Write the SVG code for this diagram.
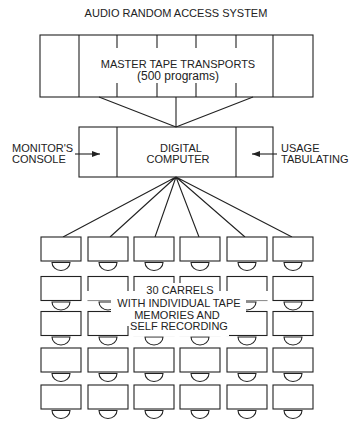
<svg xmlns="http://www.w3.org/2000/svg" width="349" height="421" viewBox="0 0 349 421">
<defs>
<style>
.ln{stroke:#222;stroke-width:1.1;fill:none}
.bx{stroke:#222;stroke-width:1.1;fill:#fff}
.t{font-family:"Liberation Sans",Arial,Helvetica,sans-serif;font-size:11px;fill:#222;text-anchor:middle}
.tl{font-family:"Liberation Sans",Arial,Helvetica,sans-serif;font-size:11px;fill:#222}
</style>
<marker id="ah" viewBox="0 0 8 6" refX="8" refY="3" markerWidth="8" markerHeight="6" markerUnits="userSpaceOnUse" orient="auto">
<path d="M0,0 L8,3 L0,6 Z" fill="#222"/>
</marker>
<g id="carrel">
<rect class="bx" x="0" y="0" width="40" height="24"/>
<path class="ln" d="M11,25.5 L29,25.5 A9 8 0 0 1 11,25.5 Z"/>
</g>
</defs>
<rect width="349" height="421" fill="#fff"/>
<text class="t" x="176" y="17">AUDIO RANDOM ACCESS SYSTEM</text>

<g id="master">
<rect class="bx" x="40" y="35" width="273" height="62"/>
<path class="ln" d="M79,35V97M273,35V97M117,35V48M157,35V48M196,35V48M236,35V48M117,83V97M157,83V97M196,83V97M236,83V97"/>
<text class="t" x="178" y="68">MASTER TAPE TRANSPORTS</text>
<text class="t" x="178" y="80" style="font-size:12px">(500 programs)</text>
</g>

<g id="computer">
<rect class="bx" x="79" y="127" width="194" height="50"/>
<path class="ln" d="M117,127V177M236,127V177"/>
<text class="t" x="181" y="152">DIGITAL</text>
<text class="t" x="178" y="163">COMPUTER</text>
</g>

<g id="monitor">
<text class="tl" x="12" y="152">MONITOR'S</text>
<text class="tl" x="12" y="163">CONSOLE</text>
</g>
<g id="usage">
<text class="tl" x="281" y="152">USAGE</text>
<text class="tl" x="281" y="163">TABULATING</text>
</g>

<g id="connectors">
<path class="ln" d="M99,97L176,127M176,97V127M253,97L176,127"/>
<line class="ln" x1="75" y1="154" x2="100" y2="154" marker-end="url(#ah)"/>
<line class="ln" x1="277" y1="154" x2="252" y2="154" marker-end="url(#ah)"/>
<path class="ln" d="M176,177L63,237M176,177L110,237M176,177L155,237M176,177L199,237M176,177L245,237M176,177L292,237"/>
</g>

<g id="carrels">
<g id="c1-1"><use href="#carrel" x="41" y="237"/></g>
<g id="c1-2"><use href="#carrel" x="88" y="237"/></g>
<g id="c1-3"><use href="#carrel" x="134" y="237"/></g>
<g id="c1-4"><use href="#carrel" x="180" y="237"/></g>
<g id="c1-5"><use href="#carrel" x="227" y="237"/></g>
<g id="c1-6"><use href="#carrel" x="273" y="237"/></g>
<g id="c2-1"><use href="#carrel" x="41" y="276.5"/></g>
<g id="c2-2"><use href="#carrel" x="88" y="276.5"/></g>
<g id="c2-3"><use href="#carrel" x="134" y="276.5"/></g>
<g id="c2-4"><use href="#carrel" x="180" y="276.5"/></g>
<g id="c2-5"><use href="#carrel" x="227" y="276.5"/></g>
<g id="c2-6"><use href="#carrel" x="273" y="276.5"/></g>
<g id="c3-1"><use href="#carrel" x="41" y="311.5"/></g>
<g id="c3-2"><use href="#carrel" x="88" y="311.5"/></g>
<g id="c3-3"><use href="#carrel" x="134" y="311.5"/></g>
<g id="c3-4"><use href="#carrel" x="180" y="311.5"/></g>
<g id="c3-5"><use href="#carrel" x="227" y="311.5"/></g>
<g id="c3-6"><use href="#carrel" x="273" y="311.5"/></g>
<g id="c4-1"><use href="#carrel" x="41" y="348"/></g>
<g id="c4-2"><use href="#carrel" x="88" y="348"/></g>
<g id="c4-3"><use href="#carrel" x="134" y="348"/></g>
<g id="c4-4"><use href="#carrel" x="180" y="348"/></g>
<g id="c4-5"><use href="#carrel" x="227" y="348"/></g>
<g id="c4-6"><use href="#carrel" x="273" y="348"/></g>
<g id="c5-1"><use href="#carrel" x="41" y="385"/></g>
<g id="c5-2"><use href="#carrel" x="88" y="385"/></g>
<g id="c5-3"><use href="#carrel" x="134" y="385"/></g>
<g id="c5-4"><use href="#carrel" x="180" y="385"/></g>
<g id="c5-5"><use href="#carrel" x="227" y="385"/></g>
<g id="c5-6"><use href="#carrel" x="273" y="385"/></g>
</g>

<g id="carrel-label">
<polygon fill="#fff" points="138,283 217,283 217,291 270,291 270,300.5 246,300.5 246,327.5 229,327.5 229,336.3 131,336.3 131,326 111,326 111,300.5 86,300.5 86,291 138,291"/>
<text class="t" x="180" y="294">30 CARRELS</text>
<text class="t" x="179" y="306.5">WITH INDIVIDUAL TAPE</text>
<text class="t" x="177" y="318.5">MEMORIES AND</text>
<text class="t" x="179" y="330">SELF RECORDING</text>
</g>
</svg>
